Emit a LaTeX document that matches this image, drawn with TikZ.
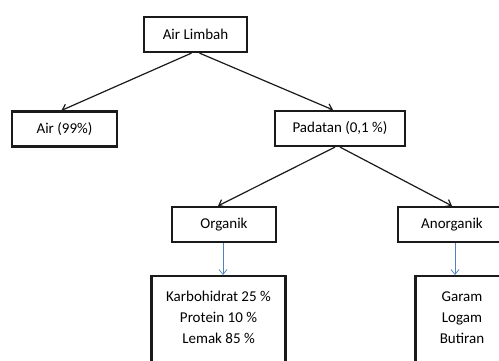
\documentclass[tikz,border=0pt]{standalone}
\usepackage{fontspec}
\setmainfont{Carlito}
\usepackage{xcolor}
\usetikzlibrary{arrows.meta,positioning,calc}
\definecolor{ink}{HTML}{1A1A1A}
\definecolor{bluearrow}{HTML}{4F81BD}
\tikzset{
  kotak/.style={
    rectangle,draw=ink,line width=2.2pt,fill=white,
    minimum height=35pt,align=center,
    font=\fontsize{15}{21}\selectfont,inner sep=3pt
  },
  kotakisi/.style={kotak,anchor=north},
  panah/.style={-{Straight Barb[length=5pt,width=8pt]},line width=1.2pt,draw=ink},
  panahbiru/.style={-{Straight Barb[length=5pt,width=8pt]},line width=0.7pt,draw=bluearrow}
}
\newcommand{\isikotak}[2]{\parbox[c][90pt][t]{#1}{\centering\rule{0pt}{22pt}#2}}
\begin{document}
\begin{tikzpicture}[x=1pt,y=-1pt]
  \useasboundingbox[fill=white] (0,0) rectangle (499,360);
  \node[kotak,minimum width=103pt] (limbah) at (195.5,34.5) {Air Limbah};
  \node[kotak,minimum width=105pt] (air) at (64.5,129) {Air (99\%)};
  \node[kotak,minimum width=130pt] (padatan) at (340,128.5) {Padatan (0,1 \%)};
  \node[kotak,minimum width=104pt] (organik) at (224,224.5) {Organik};
  \node[kotak,minimum width=108pt] (anorganik) at (452,224.5) {Anorganik};
  \node[kotakisi] (zatorganik) at (218.5,275)
    {\isikotak{128pt}{Karbohidrat 25 \%\\Protein 10 \%\\Lemak 85 \%}};
  \node[kotakisi] (zatanorganik) at (462,275)
    {\isikotak{87pt}{Garam\\Logam\\Butiran}};
  \draw[panah] ([xshift=-4pt]limbah.south) -- ([xshift=-3pt]air.north);
  \draw[panah] ([xshift=4pt]limbah.south) -- ([xshift=-7pt]padatan.north);
  \draw[panah] ([xshift=-5pt]padatan.south) -- ([xshift=-6pt]organik.north);
  \draw[panah] (padatan.south) -- (anorganik.north);
  \draw[panahbiru] ([xshift=-1pt]organik.south) -- ([xshift=-1pt]organik.south |- zatorganik.north);
  \draw[panahbiru] ([xshift=3pt]anorganik.south) -- ([xshift=3pt]anorganik.south |- zatanorganik.north);
\end{tikzpicture}
\end{document}
